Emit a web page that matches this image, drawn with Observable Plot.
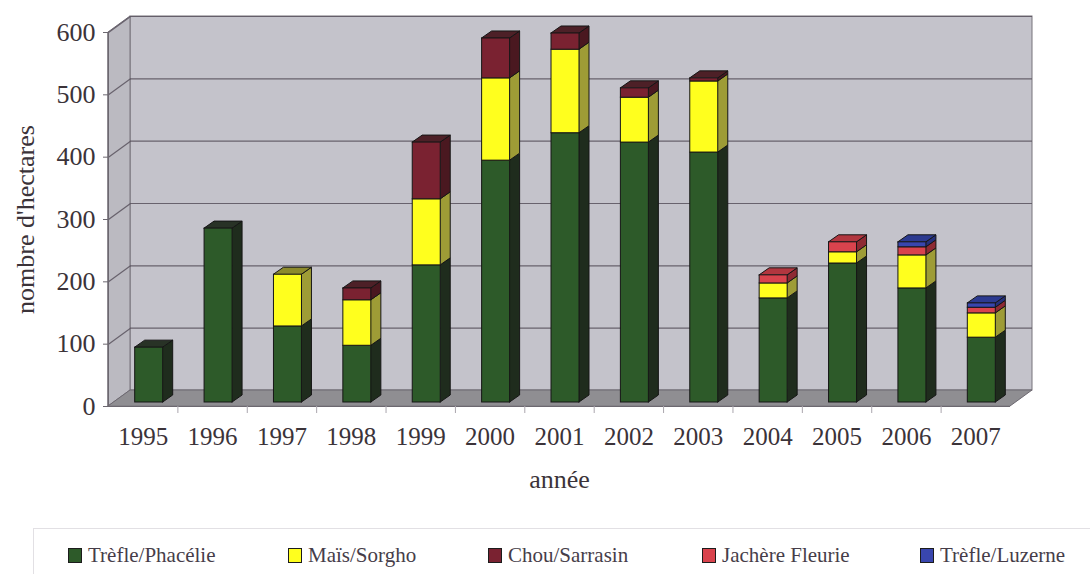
<!DOCTYPE html>
<html>
<head>
<meta charset="utf-8">
<script src="https://cdn.jsdelivr.net/npm/d3@7"></script>
<script src="https://cdn.jsdelivr.net/npm/@observablehq/plot@0.6"></script>
<style>
  body { margin: 0; background: #fff; font-family: "Liberation Serif", serif; }
  #chart { position: relative; width: 1092px; height: 574px; overflow: hidden; }
  #chart svg, #chart svg text { font-family: "Liberation Serif", serif !important; }
  .legend { position: absolute; left: 33px; top: 528px; width: 1056px; height: 60px;
            border-top: 1px solid #e2e0e4; border-left: 1px solid #e2e0e4; }
  .item { position: absolute; top: 545px; height: 20px; display: flex; align-items: center;
          font-size: 21px; color: #463d49; white-space: nowrap; }
  .sw { width: 12px; height: 13px; border: 1px solid #1c1c1c; margin-right: 6px; }
</style>
</head>
<body>
<div id="chart"></div>
<script>
// Surfaces (hectares) par année et par couvert
const years = [1995, 1996, 1997, 1998, 1999, 2000, 2001, 2002, 2003, 2004, 2005, 2006, 2007];
const seriesNames = ["Trèfle/Phacélie", "Maïs/Sorgho", "Chou/Sarrasin", "Jachère Fleurie", "Trèfle/Luzerne"];
const trefPhacelie   = [88, 279, 122, 91, 220, 388, 432, 417, 401, 167, 223, 183, 104];
const maisSorgho     = [0, 0, 83, 73, 106, 132, 134, 72, 114, 24, 18, 53, 39];
const chouSarrasin   = [0, 0, 0, 19, 91, 64, 26, 15, 5, 0, 0, 0, 0];
const jachereFleurie = [0, 0, 0, 0, 0, 0, 0, 0, 0, 13, 16, 13, 9];
const trefLuzerne    = [0, 0, 0, 0, 0, 0, 0, 0, 0, 0, 0, 8, 7];
const yTicks = [0, 100, 200, 300, 400, 500, 600];

const frontColors = ["#2d5a29", "#ffff1e", "#7a2231", "#d9434d", "#3946ae"];
const sideColors  = ["#1f2c1d", "#9e9c36", "#4a1820", "#8e2a33", "#25307c"];
const topColors   = ["#283226", "#8c8a2c", "#4d2027", "#b2363f", "#2c3a90"];

// layout
const W = 1092, H = 515, mL = 108, mR = 82, mT = 32, mB = 109;
const kx = (W - mL - mR) / years.length;   // px per category
const ky = (H - mT - mB) / 600;            // px per hectare
const wallDX = 22, wallDY = 16;            // full depth of the box
const faceDX = 6, faceDY = -4;             // bars sit a little behind the front plane
const barDX = 10, barDY = 7;               // depth of a bar
const halfW = 14;                          // half width of a bar's front face

const series = [trefPhacelie, maisSorgho, chouSarrasin, jachereFleurie, trefLuzerne];

// stacked segments
const fronts = [], sides = [], tops = [];
years.forEach((yr, i) => {
  let lo = 0, last = null;
  series.forEach((arr, s) => {
    const v = arr[i];
    if (!v) return;
    const hi = lo + v;
    const id = `${yr}-${s}`;
    fronts.push({id, x1: i - halfW / kx, x2: i + halfW / kx, y1: lo, y2: hi, fill: frontColors[s]});
    sides.push({id, x: i + halfW / kx, y1: lo, y2: hi, fill: sideColors[s]});
    sides.push({id, x: i + (halfW + barDX) / kx, y1: lo + barDY / ky, y2: hi + barDY / ky, fill: sideColors[s]});
    last = {id, s, hi};
    lo = hi;
  });
  if (last) {
    tops.push({id: last.id, y: last.hi, x1: i - halfW / kx, x2: i + halfW / kx, fill: topColors[last.s]});
    tops.push({id: last.id, y: last.hi + barDY / ky, x1: i + (barDX - halfW) / kx, x2: i + (barDX + halfW) / kx, fill: topColors[last.s]});
  }
});

const x0 = -0.5, x1 = years.length - 0.5;
const wx = wallDX / kx, wy = wallDY / ky;
const gridLines = yTicks.filter(d => d > 0);
const lineColor = "#5e5863";
const textColor = "#3b3339";

const plot = Plot.plot({
  width: W, height: H,
  marginLeft: mL, marginRight: mR, marginTop: mT, marginBottom: mB,
  style: {fontFamily: "Liberation Serif, serif", fontSize: "25px", color: textColor, background: "transparent"},
  x: {domain: [x0, x1], axis: null},
  y: {domain: [0, 600], axis: null},
  color: {type: "identity"},
  marks: [
    // back wall
    Plot.rect([{}], {x1: x0, x2: x1, y1: 0, y2: 600, dx: wallDX, dy: -wallDY, fill: "#c4c3cb", stroke: "#77727b", strokeWidth: 1}),
    // left wall
    Plot.areaY([{x: x0, y1: 0, y2: 600}, {x: x0 + wx, y1: wy, y2: 600 + wy}], {x: "x", y1: "y1", y2: "y2", fill: "#bbbac1", stroke: "#77727b", strokeWidth: 1}),
    // floor
    Plot.areaX([{y: 0, x1: x0, x2: x1}, {y: wy, x1: x0 + wx, x2: x1 + wx}], {y: "y", x1: "x1", x2: "x2", fill: "#8f8e92", stroke: "#6c6870", strokeWidth: 1}),
    // gridlines on the back and side walls
    Plot.ruleY(gridLines, {x1: x0, x2: x1, dx: wallDX, dy: -wallDY, stroke: lineColor, strokeWidth: 1.2, strokeOpacity: 0.9}),
    Plot.link(gridLines, {x1: x0, y1: d => d, x2: x0 + wx, y2: d => d + wy, stroke: lineColor, strokeWidth: 1.2, strokeOpacity: 0.9}),
    // front axis lines
    Plot.ruleX([x0], {y1: 0, y2: 600, stroke: "#6c6870"}),
    Plot.ruleY([0], {x1: x0, x2: x1, stroke: "#6c6870"}),
    // category separators below the floor
    Plot.ruleX(d3.range(1, years.length).map(k => k - 0.5), {y1: 0, y2: -7 / ky, stroke: "#aaa6ad"}),
    // bars: side faces, top faces, front faces
    Plot.areaY(sides, {x: "x", y1: "y1", y2: "y2", z: "id", fill: "fill", stroke: "#161616", strokeWidth: 1, dx: faceDX, dy: faceDY}),
    Plot.areaX(tops, {y: "y", x1: "x1", x2: "x2", z: "id", fill: "fill", stroke: "#161616", strokeWidth: 1, dx: faceDX, dy: faceDY}),
    Plot.rect(fronts, {x1: "x1", x2: "x2", y1: "y1", y2: "y2", fill: "fill", stroke: "#161616", strokeWidth: 1, dx: faceDX, dy: faceDY}),
    // axes
    Plot.axisY({ticks: yTicks, tickSize: 5, tickPadding: 8, stroke: "#6c6870", fill: textColor, fontSize: 26}),
    Plot.axisX({ticks: d3.range(years.length), tickFormat: i => String(years[i]), tickSize: 0, tickPadding: 21, label: null, fill: textColor, fontSize: 25}),
    Plot.text(["année"], {frameAnchor: "bottom", dy: 81, fontSize: 26, fill: textColor}),
    Plot.text(["nombre d'hectares"], {frameAnchor: "left", textAnchor: "middle", dx: -83, rotate: -90, fontSize: 26, fill: textColor})
  ]
});

const chart = document.getElementById("chart");
chart.appendChild(plot);
plot.style.position = "absolute";
plot.style.left = "0px";
plot.style.top = "0px";

// legend
const legend = document.createElement("div");
legend.className = "legend";
chart.appendChild(legend);
const legendX = [68, 288, 488, 702, 920];
seriesNames.forEach((name, s) => {
  const item = document.createElement("div");
  item.className = "item";
  item.style.left = legendX[s] + "px";
  const sw = document.createElement("span");
  sw.className = "sw";
  sw.style.background = frontColors[s];
  const label = document.createElement("span");
  label.textContent = name;
  item.appendChild(sw);
  item.appendChild(label);
  chart.appendChild(item);
});
</script>
</body>
</html>
